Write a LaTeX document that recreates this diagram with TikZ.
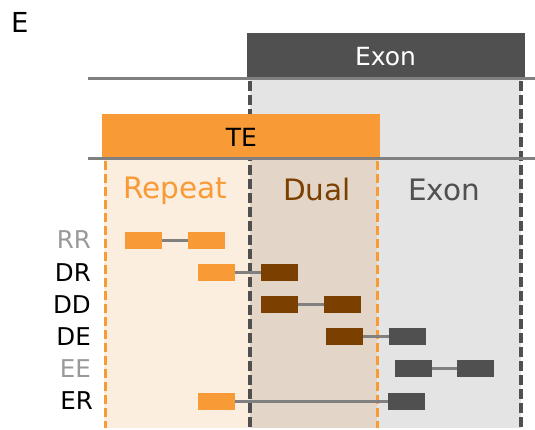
\documentclass[tikz,border=0pt]{standalone}
\usepackage{fontspec}
\setmainfont{DejaVu Sans}
\definecolor{teorange}{HTML}{F89A36}
\definecolor{exondark}{HTML}{505050}
\definecolor{dualbrown}{HTML}{7B3F00}
\definecolor{repeatbg}{HTML}{FCEEDF}
\definecolor{dualbg}{HTML}{E3D6C8}
\definecolor{exonbg}{HTML}{E4E4E4}
\definecolor{rulegray}{HTML}{808080}
\definecolor{faintlabel}{HTML}{999999}
\begin{document}
\begin{tikzpicture}[x=1pt,y=-1pt,
  rowlabel/.style={anchor=base east,inner sep=0pt,font=\fontsize{24.5}{28}\selectfont},
  regionlabel/.style={anchor=base,inner sep=0pt,font=\fontsize{29.5}{32}\selectfont},
  barlabel/.style={anchor=base,inner sep=0pt,font=\fontsize{25}{28}\selectfont},
  seg/.style={minimum width=37pt,minimum height=17pt,inner sep=0pt,outer sep=0pt},
  rseg/.style={seg,fill=teorange},
  dseg/.style={seg,fill=dualbrown},
  eseg/.style={seg,fill=exondark},
  link/.style={draw=rulegray,line width=3pt},
  rule/.style={draw=rulegray,line width=3pt},
  orangedash/.style={draw=teorange,line width=3pt,dash pattern=on 9pt off 4pt},
  darkdash/.style={draw=exondark,line width=3.3pt,dash pattern=on 10pt off 4pt}]
\useasboundingbox (0,0) rectangle (535,430);

% shaded regions
\fill[exonbg] (250,80) rectangle (521,428);
\fill[dualbg] (250,160) rectangle (377,428);
\fill[repeatbg] (104,160) rectangle (250,428);

% region boundaries
\coordinate (b1t) at (105,161); \coordinate (b1b) at (105,428);
\coordinate (b2t) at (250,81);  \coordinate (b2b) at (250,428);
\coordinate (b3t) at (377,161); \coordinate (b3b) at (377,428);
\coordinate (b4t) at (521,81);  \coordinate (b4b) at (521,428);
\draw[orangedash] (b1t) -- (b1b);
\draw[orangedash] (b3t) -- (b3b);
\draw[darkdash] (b2t) -- (b2b);
\draw[darkdash] (b4t) -- (b4b);

% header bars
\node[fill=exondark,minimum width=278pt,minimum height=45pt,inner sep=0pt,anchor=north west] (exonbar) at (247,33) {};
\node[barlabel,text=white] (exontext) at (385.5,65.5) {Exon};
\node[fill=teorange,minimum width=278pt,minimum height=44pt,inner sep=0pt,anchor=north west] (tebar) at (102,114) {};
\node[barlabel,text=black] (tetext) at (241.5,146.5) {TE};

% horizontal rules
\coordinate (r1a) at (88,79);  \coordinate (r1b) at (535,79);
\coordinate (r2a) at (88,159); \coordinate (r2b) at (535,159);
\draw[rule] (r1a) -- (r1b);
\draw[rule] (r2a) -- (r2b);

% region titles
\node[regionlabel,text=teorange] (lrepeat) at (175,198.5) {Repeat};
\node[regionlabel,text=dualbrown] (ldual) at (317,201) {Dual};
\node[regionlabel,text=exondark] (lexon) at (444,201) {Exon};

% panel letter
\node[anchor=base west,inner sep=0pt,font=\fontsize{27.5}{30}\selectfont] (panel) at (11,32.3) {E};

% row labels
\node[rowlabel,text=faintlabel] (tRR) at (91,249) {RR};
\node[rowlabel] (tDR) at (91,281) {DR};
\node[rowlabel] (tDD) at (91,313) {DD};
\node[rowlabel] (tDE) at (91,345) {DE};
\node[rowlabel,text=faintlabel] (tEE) at (91,377) {EE};
\node[rowlabel] (tER) at (93,409) {ER};

% read segments and their links
\node[rseg] (rr1) at (143.5,240.5) {};
\node[rseg] (rr2) at (206.5,240.5) {};
\draw[link] (rr1) -- (rr2);

\node[rseg] (dr1) at (216.5,272.5) {};
\node[dseg] (dr2) at (279.5,272.5) {};
\draw[link] (dr1) -- (dr2);

\node[dseg] (dd1) at (279.5,304.5) {};
\node[dseg] (dd2) at (342.5,304.5) {};
\draw[link] (dd1) -- (dd2);

\node[dseg] (de1) at (344.5,336.5) {};
\node[eseg] (de2) at (407.5,336.5) {};
\draw[link] (de1) -- (de2);

\node[eseg] (ee1) at (413.5,368.5) {};
\node[eseg] (ee2) at (475.5,368.5) {};
\draw[link] (ee1) -- (ee2);

\node[rseg] (er1) at (216.5,401.5) {};
\node[eseg] (er2) at (406.5,401.5) {};
\draw[link] (er1) -- (er2);
\end{tikzpicture}
\end{document}
